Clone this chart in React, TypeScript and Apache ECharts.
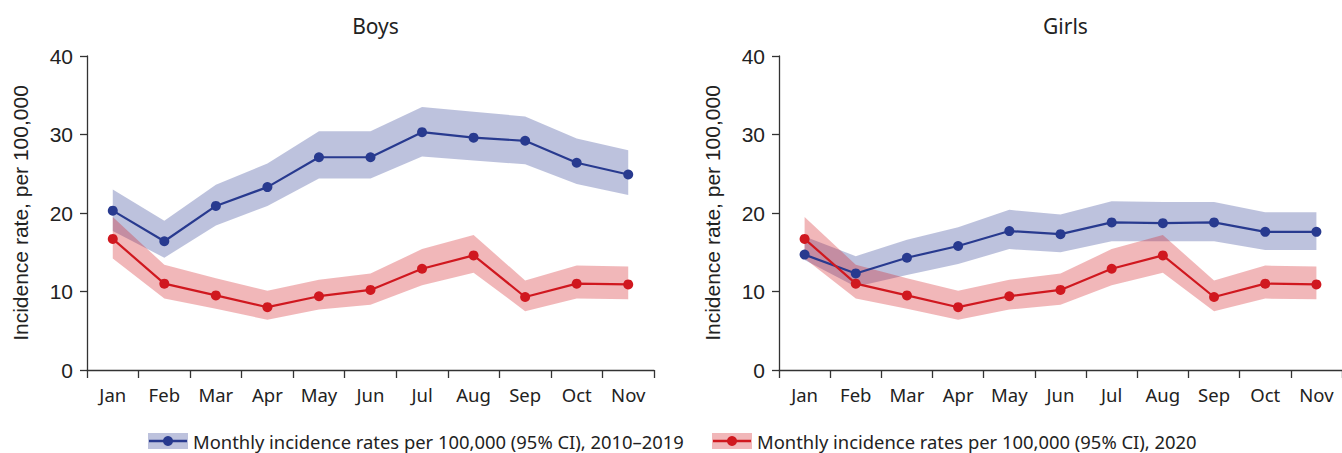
import React, { useEffect, useRef } from "react";
import * as echarts from "echarts";

const months = ["Jan", "Feb", "Mar", "Apr", "May", "Jun", "Jul", "Aug", "Sep", "Oct", "Nov"];
const yTicks = [0, 10, 20, 30, 40];

const boysAvg = [20.3, 16.4, 20.9, 23.3, 27.1, 27.1, 30.3, 29.6, 29.2, 26.4, 24.9];
const boysAvgLow = [17.7, 14.3, 18.4, 20.9, 24.4, 24.4, 27.2, 26.7, 26.2, 23.7, 22.3];
const boysAvgHigh = [23.0, 19.0, 23.6, 26.3, 30.4, 30.4, 33.5, 32.9, 32.3, 29.5, 28.0];
const boys2020 = [16.7, 11.0, 9.5, 8.0, 9.4, 10.2, 12.9, 14.6, 9.3, 11.0, 10.9];
const boys2020Low = [14.2, 9.1, 7.8, 6.4, 7.7, 8.3, 10.8, 12.4, 7.5, 9.1, 9.0];
const boys2020High = [19.5, 13.4, 11.7, 10.1, 11.5, 12.3, 15.4, 17.2, 11.4, 13.3, 13.2];

const girlsAvg = [14.7, 12.3, 14.3, 15.8, 17.7, 17.3, 18.8, 18.7, 18.8, 17.6, 17.6];
const girlsAvgLow = [14.0, 10.6, 12.1, 13.5, 15.4, 15.0, 16.4, 16.4, 16.4, 15.3, 15.3];
const girlsAvgHigh = [17.0, 14.5, 16.6, 18.2, 20.4, 19.8, 21.5, 21.4, 21.4, 20.1, 20.1];
const girls2020 = [16.7, 11.0, 9.5, 8.0, 9.4, 10.2, 12.9, 14.6, 9.3, 11.0, 10.9];
const girls2020Low = [14.2, 9.1, 7.8, 6.4, 7.7, 8.3, 10.8, 12.4, 7.5, 9.1, 9.0];
const girls2020High = [19.5, 13.4, 11.7, 10.1, 11.5, 12.3, 15.4, 17.2, 11.4, 13.3, 13.2];

const panelTitles = ["Boys", "Girls"];
const legendLabels = [
  "Monthly incidence rates per 100,000 (95% CI), 2010\u20132019",
  "Monthly incidence rates per 100,000 (95% CI), 2020",
];
const yAxisName = "Incidence rate, per 100,000";

const BLUE = "#283a8f";
const RED = "#d0181f";
const BLUE_BAND = "rgba(43,57,144,0.31)";
const RED_BAND = "rgba(210,30,37,0.32)";

function bandSeries(idx: number, key: string, low: number[], high: number[], color: string) {
  return [
    {
      type: "line",
      xAxisIndex: idx,
      yAxisIndex: idx,
      stack: key,
      data: low,
      symbol: "none",
      lineStyle: { opacity: 0 },
      silent: true,
      z: 1,
    },
    {
      type: "line",
      xAxisIndex: idx,
      yAxisIndex: idx,
      stack: key,
      data: high.map((h, i) => +(h - low[i]).toFixed(2)),
      symbol: "none",
      lineStyle: { opacity: 0 },
      areaStyle: { color, opacity: 1 },
      silent: true,
      z: 1,
    },
  ];
}

function lineSeries(idx: number, data: number[], color: string) {
  return {
    type: "line",
    xAxisIndex: idx,
    yAxisIndex: idx,
    data,
    symbol: "circle",
    symbolSize: 10,
    itemStyle: { color },
    lineStyle: { color, width: 2.2 },
    z: 3,
  };
}

export default function App() {
  const ref = useRef<HTMLDivElement>(null);
  useEffect(() => {
    if (!ref.current) return;
    const chart = echarts.init(ref.current, undefined, { renderer: "svg" });
    const grids = [
      { left: 87, top: 56, width: 567, height: 314 },
      { left: 779, top: 56, width: 566, height: 314 },
    ];
    const xAxes = grids.map((_, i) => ({
      type: "category",
      gridIndex: i,
      data: months,
      boundaryGap: true,
      axisLine: { lineStyle: { color: "#333", width: 1.3 } },
      axisTick: { show: true, length: 8, lineStyle: { color: "#333", width: 1.3 } },
      axisLabel: { color: "#222", fontSize: 18.5, fontFamily: "Noto Sans", margin: 15 },
    }));
    const yAxes = grids.map((_, i) => ({
      type: "value",
      gridIndex: i,
      min: yTicks[0],
      max: yTicks[yTicks.length - 1],
      interval: 10,
      name: yAxisName,
      nameLocation: "middle",
      nameGap: 56,
      nameTextStyle: { color: "#222", fontSize: 21, fontFamily: "Liberation Sans" },
      axisLine: { show: true, lineStyle: { color: "#333", width: 1.3 } },
      axisTick: { show: true, length: 7, lineStyle: { color: "#333", width: 1.3 } },
      axisLabel: { color: "#222", fontSize: 21, fontFamily: "Liberation Sans", margin: 14 },
      splitLine: { show: false },
    }));
    const series: any[] = [
      ...bandSeries(0, "b0a", boysAvgLow, boysAvgHigh, BLUE_BAND),
      ...bandSeries(0, "b0r", boys2020Low, boys2020High, RED_BAND),
      lineSeries(0, boysAvg, BLUE),
      lineSeries(0, boys2020, RED),
      ...bandSeries(1, "g1a", girlsAvgLow, girlsAvgHigh, BLUE_BAND),
      ...bandSeries(1, "g1r", girls2020Low, girls2020High, RED_BAND),
      lineSeries(1, girlsAvg, BLUE),
      lineSeries(1, girls2020, RED),
    ];
    const legendItem = (x: number, band: string, color: string, label: string) => ({
      type: "group",
      x,
      y: 441,
      children: [
        { type: "rect", shape: { x: 0, y: -8, width: 40, height: 16 }, style: { fill: band } },
        { type: "line", shape: { x1: 1, y1: 0, x2: 39, y2: 0 }, style: { stroke: color, lineWidth: 2.5 } },
        { type: "circle", shape: { cx: 20, cy: 0, r: 5 }, style: { fill: color } },
        {
          type: "text",
          x: 45,
          y: 0,
          style: {
            text: label,
            fill: "#222",
            fontSize: 18.4,
            fontFamily: "Noto Sans",
            verticalAlign: "middle",
            align: "left",
          },
        },
      ],
    });
    chart.setOption({
      animation: false,
      title: panelTitles.map((t, i) => ({
        text: t,
        left: grids[i].left + grids[i].width / 2 - (i === 1 ? 1.5 : 0),
        top: 10,
        textAlign: "center",
        textStyle: { color: "#222", fontSize: 21, fontWeight: "normal", fontFamily: "Noto Sans" },
      })),
      grid: grids,
      xAxis: xAxes,
      yAxis: yAxes,
      series,
      graphic: [
        legendItem(148, BLUE_BAND, BLUE, legendLabels[0]),
        legendItem(712, RED_BAND, RED, legendLabels[1]),
      ],
    });
    return () => chart.dispose();
  }, []);
  return (
    <div
      ref={ref}
      style={{ position: "absolute", left: 0, top: 0, width: 1342, height: 453, background: "#fff" }}
    />
  );
}
